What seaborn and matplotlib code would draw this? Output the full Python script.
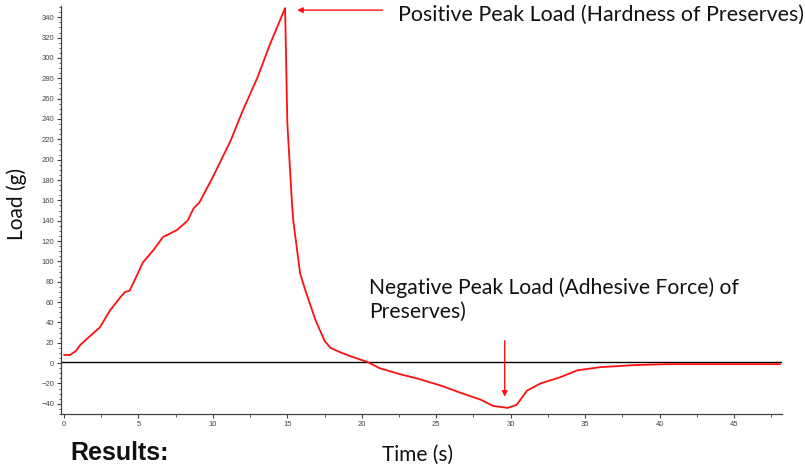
import matplotlib
matplotlib.use('Agg')
import matplotlib.pyplot as plt
import seaborn as sns
import pandas as pd
from matplotlib.ticker import MultipleLocator

# 数据：时间 (s) 与载荷 (g)
time_s = [0, 0.4, 0.8, 1.1, 1.7, 2.4, 3.1, 3.8, 4.1, 4.4, 4.6, 5.3, 6.0, 6.65,
          7.2, 7.6, 8.3, 8.7, 9.1, 10.0, 11.2, 12.0, 13.0, 13.85, 14.85, 15.0,
          15.3, 15.4, 15.86, 16.2, 16.9, 17.5, 17.9, 18.5, 19.2, 20.4, 21.2,
          22.6, 23.7, 25.3, 26.6, 28.0, 28.8, 29.8, 30.4, 31.1, 32.0, 33.3,
          34.5, 36.0, 38.2, 40.5, 44.0, 48.1]
load_g = [8, 8, 12, 18, 26, 35, 52, 65, 70, 71, 77, 99, 111, 124,
          128, 131, 140, 152, 158, 183, 219, 248, 281, 314, 349, 236,
          160, 140, 88, 72, 42, 22, 15, 11, 7, 1, -5,
          -11, -15, -22, -29, -36, -42, -44, -41, -27, -20, -14,
          -7, -4, -2, -1, -1, -1]

zero_line = 1.5
pos_peak = (15.66, 347)
neg_peak = (29.6, -33)
pos_label = 'Positive Peak Load (Hardness of Preserves)'
neg_label = 'Negative Peak Load (Adhesive Force) of\nPreserves)'

df = pd.DataFrame({'time': time_s, 'load': load_g})

sns.set_style('ticks')
plt.rcParams['font.family'] = ['Lato', 'DejaVu Sans']

fig = plt.figure(figsize=(8.05, 4.67), dpi=100)
ax = fig.add_axes([0.0758, 0.1135, 0.8952, 0.8735])

sns.lineplot(data=df, x='time', y='load', color='#ff1010', linewidth=1.3, ax=ax)
ax.axhline(zero_line, color='black', linewidth=1.0, zorder=1)

ax.set_xlim(-0.2, 48.2)
ax.set_ylim(-50, 351)
ax.xaxis.set_major_locator(MultipleLocator(5))
ax.xaxis.set_minor_locator(MultipleLocator(2.5))
ax.yaxis.set_major_locator(MultipleLocator(20))
ax.yaxis.set_minor_locator(MultipleLocator(5))
ax.set_xlabel('')
ax.set_ylabel('')

for side in ['top', 'right']:
    ax.spines[side].set_visible(False)
for side in ['left', 'bottom']:
    ax.spines[side].set_color('#444444')
    ax.spines[side].set_linewidth(0.9)

ax.tick_params(axis='both', which='major', length=3, width=0.8, color='#444444',
               labelsize=5.5, labelcolor='#444444', pad=2)
ax.tick_params(axis='both', which='minor', length=1.8, width=0.6, color='#444444')
for lbl in ax.get_xticklabels() + ax.get_yticklabels():
    lbl.set_fontfamily('Liberation Sans')

# 标注箭头
arrow_kw = dict(arrowstyle='-|>', color='#ff1010', lw=1.0, mutation_scale=8,
                shrinkA=0, shrinkB=0)
ax.annotate('', xy=pos_peak, xytext=(21.4, pos_peak[1]), arrowprops=arrow_kw)
ax.annotate('', xy=neg_peak, xytext=(neg_peak[0], 22), arrowprops=arrow_kw)

fig.text(398 / 805, 1 - 15 / 467, pos_label, fontsize=15.4, color='#111111',
         ha='left', va='center')
fig.text(369 / 805, 1 - 277 / 467, neg_label, fontsize=15.2, color='#111111',
         ha='left', va='top', linespacing=1.25)

fig.text(418 / 805, 1 - 455 / 467, 'Time (s)', fontsize=15, color='#111111',
         ha='center', va='center')
fig.text(17 / 805, 1 - 204 / 467, 'Load (g)', fontsize=15, color='#111111',
         ha='center', va='center', rotation=90)
fig.text(70 / 805, 0.014, 'Results:', fontsize=18, fontweight='bold',
         family='Liberation Sans', color='#111111', ha='left', va='baseline')

fig.savefig('out.png', dpi=100)
